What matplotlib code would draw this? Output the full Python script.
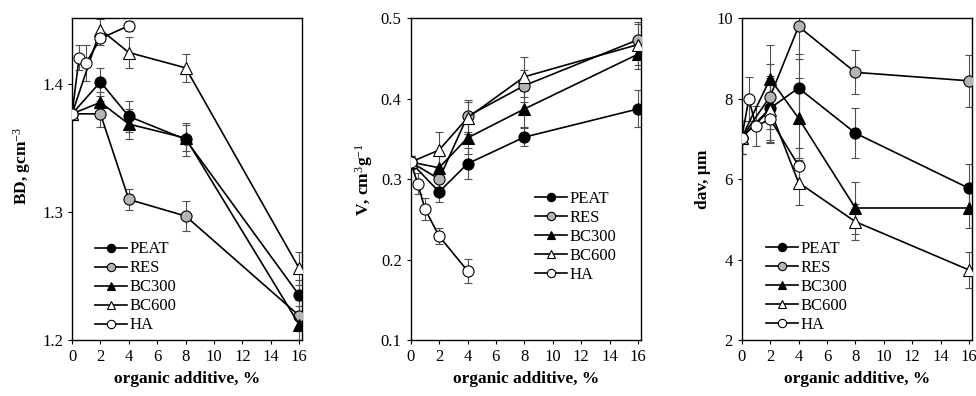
import matplotlib.pyplot as plt

plt.rcParams['font.family'] = ['Liberation Serif', 'DejaVu Serif']
plt.rcParams['mathtext.fontset'] = 'custom'
plt.rcParams['mathtext.rm'] = 'Liberation Serif'
plt.rcParams['mathtext.it'] = 'Liberation Serif:italic'
plt.rcParams['mathtext.bf'] = 'Liberation Serif:bold'

# additive levels
x_main = [0, 2, 4, 8, 16]
x_ha = [0, 0.5, 1, 2, 4]

# bulk density, g/cm3
bd_peat = [1.377, 1.402, 1.375, 1.357, 1.235]
bd_res = [1.377, 1.377, 1.310, 1.297, 1.219]
bd_bc300 = [1.377, 1.386, 1.369, 1.358, 1.212]
bd_bc600 = [1.377, 1.443, 1.425, 1.413, 1.256]
bd_ha = [1.377, 1.421, 1.417, 1.436, 1.446]
bd_peat_err = [0.004, 0.011, 0.012, 0.013, 0.012]
bd_res_err = [0.004, 0.010, 0.008, 0.012, 0.012]
bd_bc300_err = [0.004, 0.008, 0.012, 0.010, 0.015]
bd_bc600_err = [0.004, 0.008, 0.012, 0.011, 0.013]
bd_ha_err = [0.004, 0.010, 0.014, 0.005, 0.004]

# pore volume, cm3/g
v_peat = [0.321, 0.284, 0.319, 0.352, 0.387]
v_res = [0.321, 0.300, 0.378, 0.416, 0.473]
v_bc300 = [0.321, 0.314, 0.351, 0.387, 0.455]
v_bc600 = [0.321, 0.336, 0.376, 0.427, 0.467]
v_ha = [0.321, 0.294, 0.263, 0.229, 0.186]
v_peat_err = [0.008, 0.012, 0.019, 0.011, 0.023]
v_res_err = [0.008, 0.010, 0.020, 0.020, 0.022]
v_bc300_err = [0.008, 0.015, 0.020, 0.022, 0.018]
v_bc600_err = [0.008, 0.022, 0.020, 0.025, 0.025]
v_ha_err = [0.008, 0.013, 0.014, 0.010, 0.015]

# mean pore diameter, um
d_peat = [7.03, 7.76, 8.26, 7.14, 5.77]
d_res = [7.03, 8.05, 9.79, 8.65, 8.44]
d_bc300 = [7.03, 8.49, 7.51, 5.28, 5.28]
d_bc600 = [7.03, 7.72, 5.91, 4.94, 3.74]
d_ha = [7.03, 7.99, 7.31, 7.49, 6.33]
d_peat_err = [0.4, 0.8, 0.85, 0.63, 0.6]
d_res_err = [0.4, 0.8, 0.8, 0.55, 0.65]
d_bc300_err = [0.4, 0.85, 1.0, 0.65, 0.5]
d_bc600_err = [0.4, 0.8, 0.55, 0.45, 0.45]
d_ha_err = [0.4, 0.55, 0.5, 0.6, 0.45]

names = ['PEAT', 'RES', 'BC300', 'BC600', 'HA']
marks = ['o', 'o', '^', '^', 'o']
faces = ['black', '#b4b4b4', 'black', 'white', 'white']

panels = [
    (bd_peat, bd_res, bd_bc300, bd_bc600, bd_ha,
     bd_peat_err, bd_res_err, bd_bc300_err, bd_bc600_err, bd_ha_err),
    (v_peat, v_res, v_bc300, v_bc600, v_ha,
     v_peat_err, v_res_err, v_bc300_err, v_bc600_err, v_ha_err),
    (d_peat, d_res, d_bc300, d_bc600, d_ha,
     d_peat_err, d_res_err, d_bc300_err, d_bc600_err, d_ha_err),
]
ylabels = ['BD, gcm$^{-3}$', 'V, cm$^{3}$g$^{-1}$', 'dav, \u00b5m']
ylims = [(1.2, 1.452), (0.1, 0.5), (2, 10)]
yticks = [[1.2, 1.3, 1.4], [0.1, 0.2, 0.3, 0.4, 0.5], [2, 4, 6, 8, 10]]
lefts = [0.0738, 0.4208, 0.760]
leg_pos = [(0.10, 0.306), (0.540, 0.462), (0.105, 0.308)]

fig = plt.figure(figsize=(9.76, 3.96), dpi=100)

for k in range(3):
    ax = fig.add_axes([lefts[k], 0.1414, 0.2357, 0.8131])
    data = panels[k]
    for i in range(5):
        xs = x_ha if names[i] == 'HA' else x_main
        ax.errorbar(xs, data[i], yerr=data[5 + i], fmt='none', ecolor='#505050',
                    elinewidth=0.8, capsize=3, capthick=0.8, zorder=1)
    for i in range(5):
        xs = x_ha if names[i] == 'HA' else x_main
        ax.plot(xs, data[i], color='black', lw=1.2, marker=marks[i], ms=8,
                mfc=faces[i], mec='black', mew=0.8, label=names[i], zorder=3)
    ax.set_xlim(0, 16.2)
    ax.set_ylim(*ylims[k])
    ax.set_xticks(range(0, 17, 2))
    ax.set_yticks(yticks[k])
    if k == 0:
        ax.set_yticklabels(['1.2', '1.3', '1.4'])
    ax.tick_params(labelsize=12, length=3, width=0.8, direction='out')
    ax.set_xlabel('organic additive, %', fontsize=12.5, fontweight='bold')
    ax.set_ylabel(ylabels[k], fontsize=12.5, fontweight='bold')
    if k == 0:
        ax.yaxis.set_label_coords(-0.17, 0.54)
    for s in ax.spines.values():
        s.set_linewidth(1.0)
    ax.legend(loc='upper left', bbox_to_anchor=leg_pos[k], frameon=False,
              fontsize=12, handlelength=1.9, handletextpad=0.15,
              labelspacing=0.18, borderpad=0, borderaxespad=0,
              markerscale=0.75)

fig.savefig('out.png', dpi=100)
